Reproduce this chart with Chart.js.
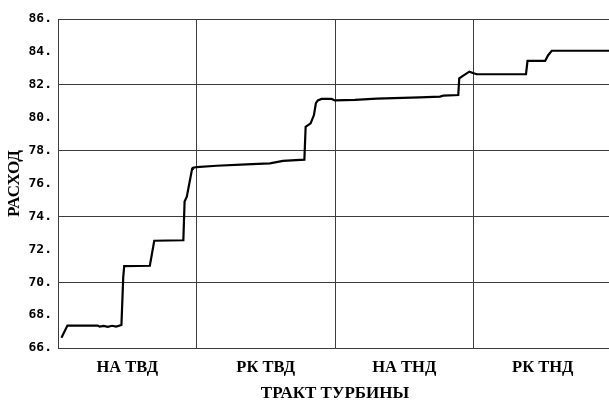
<!DOCTYPE html>
<html>
<head>
<meta charset="utf-8">
<script src="https://cdn.jsdelivr.net/npm/chart.js@4/dist/chart.umd.min.js"></script>
<style>
  html, body { margin: 0; padding: 0; background: #fff; overflow: hidden; }
  #c { position: absolute; left: 0; top: 0; }
</style>
</head>
<body>
<canvas id="c" width="613" height="404" style="width:613px;height:404px"></canvas>
<script>
// Turbine flow-path sections shown along the horizontal axis
const sections = ['НА ТВД', 'РК ТВД', 'НА ТНД', 'РК ТНД'];

// Position along the flow path (in section units, 0..4)
const pathPos = [
  0.025, 0.068, 0.287, 0.301, 0.330, 0.360, 0.390, 0.420, 0.458, 0.471, 0.478,
  0.663, 0.695, 0.905, 0.914, 0.930, 0.968, 0.973, 1.000,
  1.145, 1.361, 1.530, 1.624, 1.779, 1.788, 1.824, 1.848, 1.862, 1.876, 1.903, 1.975, 2.000,
  2.144, 2.301, 2.613, 2.758, 2.782, 2.890, 2.897, 2.915, 2.970, 2.996, 3.023,
  3.379, 3.390, 3.408, 3.517, 3.539, 3.565, 4.000
];

// Flow rate (РАСХОД) at each position
const flowRate = [
  66.63, 67.36, 67.36, 67.30, 67.34, 67.29, 67.35, 67.30, 67.40, 70.30, 70.98,
  71.00, 72.52, 72.55, 74.90, 75.20, 76.88, 76.95, 77.00,
  77.08, 77.16, 77.22, 77.37, 77.45, 79.45, 79.66, 80.16, 80.88, 81.05, 81.14, 81.14, 81.05,
  81.08, 81.16, 81.24, 81.28, 81.34, 81.38, 82.39, 82.50, 82.80, 82.72, 82.64,
  82.64, 83.45, 83.45, 83.45, 83.80, 84.07, 84.07
];

// Value axis
const yMin = 66, yMax = 86, yStep = 2, yGridStep = 4;

const points = pathPos.map((x, i) => ({ x: x, y: flowRate[i] }));
const gridColor = '#3c3c3c';

new Chart(document.getElementById('c'), {
  type: 'scatter',
  data: {
    datasets: [{
      data: points,
      showLine: true,
      borderColor: '#000',
      borderWidth: 2.2,
      pointRadius: 0,
      tension: 0,
      fill: false
    }]
  },
  options: {
    responsive: false,
    devicePixelRatio: 1,
    animation: false,
    layout: { padding: { left: 0, right: 1, top: 19, bottom: 0 } },
    plugins: { legend: { display: false }, tooltip: { enabled: false } },
    scales: {
      x: {
        type: 'linear',
        min: 0,
        max: sections.length,
        afterBuildTicks: (scale) => {
          const t = [];
          for (let v = 0; v <= sections.length; v += 0.5) t.push({ value: v });
          scale.ticks = t;
        },
        afterFit: (scale) => {
          scale.height = 56;
          // no side padding: the plot runs right up to the edge
          scale.paddingLeft = 0;
          scale.paddingRight = 0;
        },
        grid: {
          drawTicks: false,
          lineWidth: 1,
          color: (ctx) => (ctx.tick && Number.isInteger(ctx.tick.value)) ? gridColor : 'rgba(0,0,0,0)'
        },
        border: { display: true, color: gridColor, width: 1 },
        ticks: {
          autoSkip: false,
          maxRotation: 0,
          padding: 10,
          color: '#000',
          font: { family: '"Liberation Serif", serif', size: 16.5, weight: 'bold' },
          callback: (v) => Number.isInteger(v) ? '' : sections[Math.floor(v)]
        },
        title: {
          display: true,
          text: 'ТРАКТ ТУРБИНЫ',
          color: '#000',
          padding: { top: 0, bottom: 0 },
          font: { family: '"Liberation Serif", serif', size: 17, weight: 'bold' }
        }
      },
      y: {
        min: yMin,
        max: yMax,
        afterFit: (scale) => { scale.width = 58; },
        grid: {
          drawTicks: false,
          lineWidth: 1,
          color: (ctx) => (ctx.tick && (ctx.tick.value - yMin) % yGridStep === 0) ? gridColor : 'rgba(0,0,0,0)'
        },
        border: { display: true, color: gridColor, width: 1 },
        ticks: {
          stepSize: yStep,
          padding: 6,
          color: '#000',
          font: { family: '"DejaVu Sans Mono", monospace', size: 13, weight: 'bold' },
          callback: (v) => v + '.'
        },
        title: {
          display: true,
          text: 'РАСХОД',
          color: '#000',
          padding: { top: 4, bottom: 0 },
          font: { family: '"Liberation Serif", serif', size: 17, weight: 'bold' }
        }
      }
    }
  }
});
</script>
</body>
</html>
